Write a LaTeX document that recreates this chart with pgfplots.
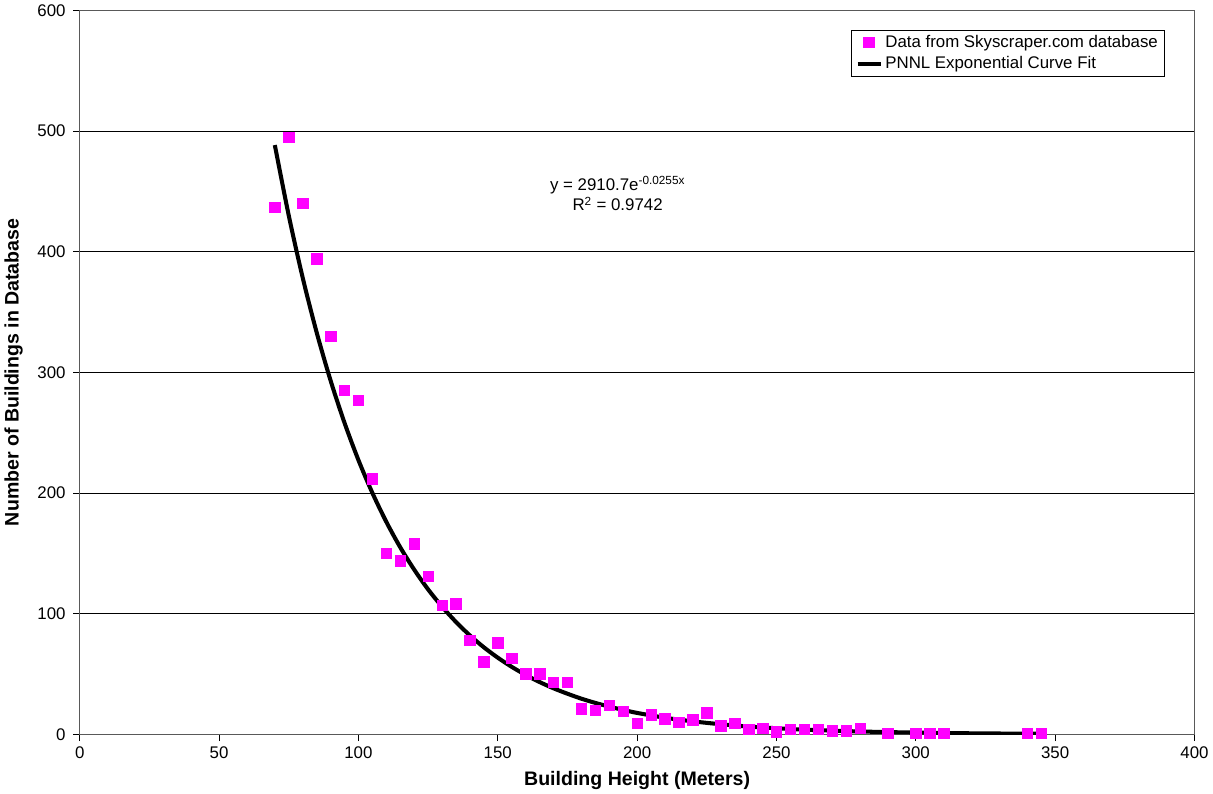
\documentclass[border=0pt]{standalone}
\usepackage{fontspec}
\setmainfont{Liberation Sans}
\usepackage{pgfplots}
\pgfplotsset{compat=1.18}
\definecolor{pinkdot}{HTML}{FF00FF}

\begin{document}
\begin{tikzpicture}
\begin{axis}[
    scale only axis,
    width=827pt, height=537pt,
    xmin=0, xmax=400, ymin=0, ymax=600,
    xtick={0,50,...,400}, ytick={0,100,...,600},
    ymajorgrids, major grid style={black, line width=0.6pt},
    axis line style={gray!70!black, line width=0.8pt},
    tick align=outside, major tick length=5pt,
    tick style={black, line width=0.6pt},
    xtick pos=bottom, ytick pos=left,
    /pgf/number format/assume math mode=true,
    ticklabel style={font=\fontsize{12.5}{14}\selectfont},
    yticklabel style={xshift=-2pt},
    xticklabel style={yshift=-1pt},
    xlabel={\textbf{Building Height (Meters)}},
    ylabel={\textbf{Number of Buildings in Database}},
    label style={font=\fontsize{14.5}{17}\selectfont},
    xlabel style={yshift=-2pt},
    ylabel style={yshift=4pt},
    legend style={at={(0.9737,0.9735)}, anchor=north east, draw=black,
        line width=0.8pt, font=\fontsize{12.5}{14}\selectfont,
        inner xsep=3pt, inner ysep=2pt, row sep=1pt},
    legend cell align=left,
]
% data points
\addplot[only marks, mark=square*, mark size=3.9pt, color=pinkdot] coordinates {
    (70,437) (75,495) (80,440) (85,394) (90,330) (95,285) (100,277)
    (105,212) (110,150) (115,144) (120,158) (125,131) (130,107) (135,108)
    (140,78) (145,60) (150,76) (155,63) (160,50) (165,50) (170,43) (175,43)
    (180,21) (185,20) (190,24) (195,19) (200,9) (205,16) (210,13) (215,10)
    (220,12) (225,18) (230,7) (235,9) (240,4) (245,5) (250,2) (255,4)
    (260,4) (265,4) (270,3) (275,3) (280,5) (290,1) (300,1) (305,1)
    (310,1) (340,1) (345,1)
};
\addlegendentry{Data from Skyscraper.com database}
% fitted curve, y = 2910.7 exp(-0.0255x), values tabulated
\addplot[black, line width=3pt, smooth, no marks] coordinates {
    (70,488.4) (75,430.0) (80,378.5) (85,333.2) (90,293.3) (95,258.2)
    (100,227.3) (105,200.1) (110,176.1) (115,155.0) (120,136.5) (125,120.1)
    (130,105.8) (135,93.1) (140,81.9) (145,72.1) (150,63.5) (155,55.9)
    (160,49.2) (165,43.3) (170,38.1) (175,33.6) (180,29.5) (185,26.0)
    (190,22.9) (195,20.2) (200,17.7) (210,13.7) (220,10.7) (230,8.3)
    (240,6.4) (250,5.0) (260,3.8) (270,3.0) (280,2.3) (290,1.8)
    (300,1.4) (320,0.8) (345,0.4)
};
\addlegendentry{PNNL Exponential Curve Fit}
\node[font=\fontsize{12.5}{15}\selectfont, align=center] at (axis cs:193,448)
    {y = 2910.7e\textsuperscript{-0.0255x}\\R\textsuperscript{2} = 0.9742};
\end{axis}
\end{tikzpicture}
\end{document}
